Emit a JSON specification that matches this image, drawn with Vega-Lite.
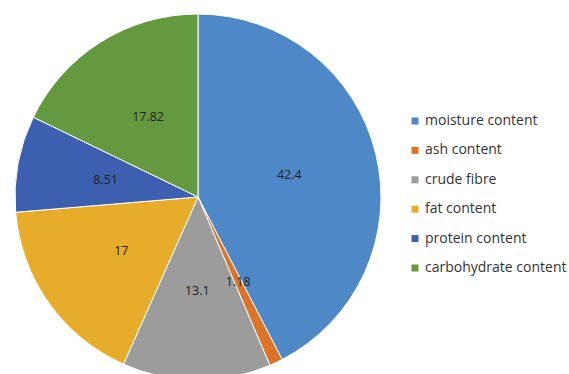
{
  "$schema": "https://vega.github.io/schema/vega-lite/v6.json",
  "width": 396,
  "height": 354,
  "autosize": "none",
  "padding": {"left": 0, "top": 20, "right": 173, "bottom": 0},
  "background": "white",
  "config": {"view": {"stroke": null}, "font": "Open Sans"},
  "data": {
    "values": [
      {"idx": 1, "component": "moisture content", "value": 42.4},
      {"idx": 2, "component": "ash content", "value": 1.18},
      {"idx": 3, "component": "crude fibre", "value": 13.1},
      {"idx": 4, "component": "fat content", "value": 17},
      {"idx": 5, "component": "protein content", "value": 8.51},
      {"idx": 6, "component": "carbohydrate content", "value": 17.82}
    ]
  },
  "encoding": {
    "theta": {"field": "value", "type": "quantitative", "stack": true},
    "order": {"field": "idx", "type": "quantitative"},
    "color": {
      "field": "component",
      "type": "nominal",
      "scale": {
        "domain": ["moisture content", "ash content", "crude fibre", "fat content", "protein content", "carbohydrate content"],
        "range": ["#4F88C6", "#DD7328", "#9C9C9C", "#E7AD2A", "#3C5FAF", "#64993F"]
      },
      "legend": {
        "title": null,
        "orient": "none",
        "legendX": 408,
        "legendY": 94,
        "symbolType": "square",
        "symbolSize": 49,
        "symbolStrokeWidth": 0,
        "labelFontSize": 14,
        "labelColor": "#333333",
        "labelOffset": 3,
        "rowPadding": 15.4,
        "labelLimit": 200
      }
    }
  },
  "layer": [
    {"mark": {"type": "arc", "outerRadius": 183, "stroke": "white", "strokeWidth": 1}},
    {
      "mark": {"type": "text", "radius": 94, "fontSize": 12.5, "fill": "#222222"},
      "encoding": {"text": {"field": "value", "type": "nominal"}, "color": {"value": "#222222"}}
    }
  ]
}
